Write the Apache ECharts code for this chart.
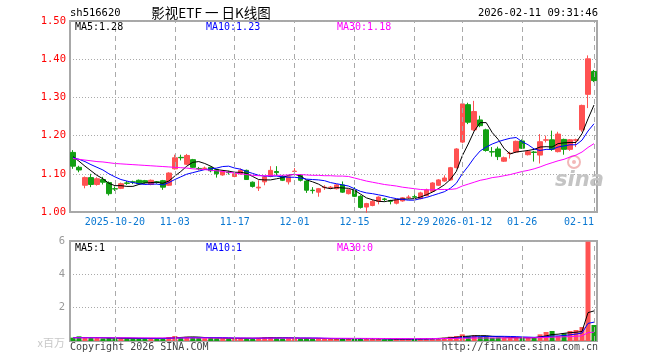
<!DOCTYPE html>
<html><head><meta charset="utf-8">
<script src="https://cdn.jsdelivr.net/npm/echarts@6/dist/echarts.min.js"></script>
<style>html,body{margin:0;padding:0;background:#fff}#c{width:660px;height:360px}</style>
</head><body><div id="c"></div>
<script>
const dates = [
'2025-10-09','2025-10-10','2025-10-13','2025-10-14','2025-10-15','2025-10-16','2025-10-17','2025-10-20','2025-10-21','2025-10-22',
'2025-10-23','2025-10-24','2025-10-27','2025-10-28','2025-10-29','2025-10-30','2025-10-31','2025-11-03','2025-11-04','2025-11-05',
'2025-11-06','2025-11-07','2025-11-10','2025-11-11','2025-11-12','2025-11-13','2025-11-14','2025-11-17','2025-11-18','2025-11-19',
'2025-11-20','2025-11-21','2025-11-24','2025-11-25','2025-11-26','2025-11-27','2025-11-28','2025-12-01','2025-12-02','2025-12-03',
'2025-12-04','2025-12-05','2025-12-08','2025-12-09','2025-12-10','2025-12-11','2025-12-12','2025-12-15','2025-12-16','2025-12-17',
'2025-12-18','2025-12-19','2025-12-22','2025-12-23','2025-12-24','2025-12-25','2025-12-26','2025-12-29','2025-12-30','2025-12-31',
'2026-01-05','2026-01-06','2026-01-07','2026-01-08','2026-01-09','2026-01-12','2026-01-13','2026-01-14','2026-01-15','2026-01-16',
'2026-01-19','2026-01-20','2026-01-21','2026-01-22','2026-01-23','2026-01-26','2026-01-27','2026-01-28','2026-01-29','2026-01-30',
'2026-02-02','2026-02-03','2026-02-04','2026-02-05','2026-02-06','2026-02-09','2026-02-10','2026-02-11'];
const open = [
1.156,1.117,1.070,1.090,1.072,1.085,1.077,1.061,1.062,1.076,
1.079,1.083,1.082,1.072,1.079,1.082,1.070,1.113,1.143,1.125,
1.137,1.114,1.114,1.117,1.111,1.097,1.104,1.093,1.100,1.109,
1.078,1.063,1.079,1.093,1.106,1.093,1.079,1.106,1.096,1.081,
1.057,1.052,1.064,1.064,1.061,1.071,1.048,1.057,1.041,1.013,
1.017,1.028,1.034,1.030,1.023,1.029,1.038,1.040,1.035,1.043,
1.054,1.070,1.081,1.084,1.116,1.183,1.281,1.215,1.241,1.215,
1.158,1.165,1.133,1.153,1.157,1.186,1.150,1.157,1.149,1.188,
1.189,1.158,1.190,1.164,1.188,1.215,1.308,1.368];
const close = [
1.120,1.110,1.090,1.072,1.087,1.078,1.048,1.060,1.074,1.075,
1.078,1.074,1.077,1.083,1.078,1.065,1.102,1.142,1.142,1.148,
1.117,1.113,1.115,1.108,1.100,1.107,1.103,1.100,1.109,1.085,
1.067,1.065,1.092,1.109,1.103,1.083,1.092,1.107,1.083,1.057,
1.056,1.061,1.065,1.065,1.071,1.052,1.058,1.041,1.012,1.022,
1.028,1.039,1.033,1.028,1.032,1.037,1.039,1.039,1.050,1.058,
1.076,1.084,1.089,1.116,1.165,1.283,1.235,1.263,1.226,1.161,
1.157,1.145,1.142,1.154,1.185,1.167,1.158,1.156,1.184,1.189,
1.164,1.204,1.164,1.189,1.189,1.279,1.401,1.344];
const low = [
1.113,1.104,1.062,1.065,1.069,1.072,1.043,1.055,1.060,1.071,
1.073,1.072,1.074,1.070,1.074,1.058,1.068,1.111,1.135,1.123,
1.115,1.109,1.110,1.104,1.090,1.095,1.098,1.091,1.098,1.084,
1.064,1.055,1.070,1.091,1.095,1.081,1.072,1.100,1.080,1.050,
1.048,1.040,1.058,1.060,1.059,1.050,1.046,1.039,1.009,0.998,
1.015,1.020,1.028,1.020,1.020,1.027,1.034,1.033,1.033,1.041,
1.052,1.068,1.079,1.082,1.114,1.180,1.230,1.212,1.222,1.158,
1.145,1.136,1.131,1.140,1.155,1.165,1.148,1.132,1.127,1.182,
1.160,1.156,1.150,1.160,1.170,1.210,1.272,1.340];
const high = [
1.162,1.121,1.093,1.100,1.091,1.092,1.080,1.067,1.077,1.081,
1.082,1.085,1.084,1.085,1.081,1.084,1.104,1.150,1.150,1.152,
1.139,1.118,1.119,1.119,1.113,1.110,1.108,1.103,1.114,1.111,
1.080,1.083,1.094,1.120,1.120,1.097,1.094,1.115,1.099,1.083,
1.065,1.063,1.070,1.068,1.073,1.080,1.060,1.065,1.044,1.024,
1.032,1.041,1.037,1.032,1.034,1.039,1.044,1.046,1.053,1.061,
1.078,1.086,1.096,1.118,1.167,1.284,1.286,1.291,1.252,1.218,
1.170,1.171,1.145,1.158,1.187,1.190,1.161,1.160,1.204,1.200,
1.213,1.210,1.192,1.191,1.192,1.281,1.410,1.372];
const ma5 = [
1.145,1.133,1.120,1.108,1.096,1.087,1.075,1.069,1.069,1.067,
1.067,1.072,1.076,1.077,1.078,1.075,1.081,1.094,1.106,1.120,
1.130,1.132,1.127,1.120,1.111,1.109,1.107,1.104,1.104,1.101,
1.093,1.085,1.084,1.084,1.087,1.090,1.096,1.099,1.094,1.084,
1.079,1.073,1.064,1.061,1.064,1.063,1.062,1.057,1.047,1.037,
1.032,1.028,1.027,1.030,1.032,1.034,1.034,1.035,1.039,1.045,
1.052,1.061,1.071,1.085,1.106,1.147,1.178,1.212,1.234,1.234,
1.208,1.190,1.166,1.152,1.157,1.159,1.161,1.164,1.170,1.171,
1.170,1.179,1.181,1.182,1.182,1.205,1.244,1.280];
const ma10 = [
1.142,1.138,1.132,1.124,1.117,1.110,1.100,1.092,1.085,1.081,
1.077,1.074,1.072,1.073,1.073,1.071,1.077,1.085,1.092,1.099,
1.103,1.107,1.111,1.113,1.115,1.119,1.120,1.115,1.112,1.106,
1.101,1.096,1.094,1.094,1.094,1.092,1.091,1.091,1.089,1.086,
1.085,1.084,1.082,1.077,1.074,1.071,1.068,1.061,1.054,1.050,
1.048,1.045,1.042,1.038,1.035,1.033,1.031,1.031,1.035,1.038,
1.043,1.048,1.053,1.062,1.075,1.100,1.120,1.142,1.160,1.170,
1.178,1.184,1.189,1.193,1.195,1.184,1.176,1.165,1.161,1.164,
1.164,1.170,1.173,1.176,1.176,1.188,1.212,1.231];
const ma30 = [
1.140,1.138,1.136,1.134,1.132,1.131,1.129,1.127,1.126,1.125,
1.124,1.123,1.122,1.121,1.120,1.119,1.118,1.117,1.116,1.115,
1.113,1.112,1.111,1.109,1.108,1.106,1.104,1.102,1.100,1.098,
1.096,1.095,1.095,1.096,1.096,1.096,1.097,1.098,1.098,1.097,
1.096,1.096,1.095,1.095,1.094,1.094,1.093,1.089,1.085,1.081,
1.078,1.075,1.072,1.070,1.068,1.065,1.063,1.061,1.059,1.058,
1.058,1.059,1.059,1.059,1.061,1.068,1.073,1.078,1.083,1.086,
1.090,1.092,1.095,1.098,1.102,1.106,1.109,1.113,1.118,1.124,
1.129,1.134,1.138,1.144,1.149,1.157,1.169,1.179];
const volume = [
0.20,0.28,0.18,0.20,0.18,0.16,0.18,0.16,0.15,0.14,
0.15,0.16,0.15,0.16,0.14,0.16,0.24,0.30,0.22,0.25,
0.22,0.18,0.17,0.18,0.16,0.15,0.14,0.16,0.18,0.17,
0.16,0.18,0.22,0.24,0.18,0.16,0.17,0.16,0.15,0.18,
0.14,0.15,0.12,0.12,0.14,0.15,0.13,0.14,0.16,0.15,
0.12,0.12,0.10,0.10,0.12,0.12,0.12,0.12,0.14,0.15,
0.18,0.18,0.20,0.26,0.30,0.40,0.30,0.34,0.26,0.30,
0.20,0.22,0.18,0.18,0.22,0.20,0.20,0.20,0.40,0.54,
0.60,0.30,0.46,0.60,0.66,0.84,5.96,0.96];
const volMa5 = [
0.21,0.21,0.21,0.21,0.21,0.20,0.18,0.176,0.166,0.158,
0.156,0.152,0.152,0.152,0.152,0.154,0.17,0.20,0.212,0.234,
0.246,0.234,0.208,0.20,0.182,0.168,0.16,0.158,0.158,0.16,
0.162,0.17,0.182,0.194,0.196,0.196,0.194,0.182,0.164,0.164,
0.16,0.156,0.148,0.142,0.134,0.136,0.132,0.136,0.144,0.146,
0.14,0.138,0.13,0.118,0.112,0.112,0.112,0.116,0.124,0.13,
0.142,0.154,0.17,0.194,0.224,0.268,0.292,0.32,0.32,0.32,
0.28,0.264,0.232,0.216,0.20,0.20,0.196,0.20,0.244,0.308,
0.388,0.408,0.46,0.50,0.524,0.572,1.704,1.804];
const volMa10 = [
0.20,0.20,0.20,0.20,0.20,0.20,0.195,0.19,0.185,0.183,
0.178,0.166,0.163,0.159,0.155,0.155,0.161,0.176,0.183,0.194,
0.20,0.202,0.204,0.206,0.208,0.207,0.197,0.183,0.179,0.171,
0.165,0.165,0.17,0.176,0.178,0.179,0.182,0.182,0.179,0.18,
0.178,0.175,0.165,0.153,0.149,0.148,0.144,0.142,0.143,0.14,
0.138,0.135,0.134,0.132,0.13,0.127,0.126,0.124,0.122,0.122,
0.128,0.134,0.144,0.16,0.178,0.206,0.224,0.246,0.26,0.275,
0.277,0.281,0.279,0.271,0.263,0.243,0.233,0.219,0.233,0.254,
0.294,0.302,0.33,0.372,0.416,0.48,1.056,1.132];
const volMa30 = [
0.19,0.19,0.19,0.19,0.19,0.19,0.19,0.19,0.19,0.19,
0.188,0.187,0.186,0.185,0.184,0.183,0.183,0.183,0.183,0.183,
0.182,0.181,0.18,0.18,0.179,0.178,0.177,0.177,0.177,0.178,
0.176,0.175,0.175,0.176,0.176,0.176,0.176,0.175,0.174,0.174,
0.172,0.17,0.168,0.166,0.165,0.164,0.162,0.16,0.158,0.156,
0.154,0.152,0.15,0.148,0.146,0.145,0.144,0.143,0.142,0.142,
0.143,0.145,0.148,0.152,0.157,0.164,0.169,0.174,0.177,0.181,
0.182,0.184,0.185,0.186,0.188,0.189,0.19,0.194,0.203,0.216,
0.232,0.238,0.25,0.266,0.284,0.308,0.503,0.531];
const tickDates = ['2025-10-20','2025-11-03','2025-11-17','2025-12-01','2025-12-15','2025-12-29','2026-01-12','2026-01-26','2026-02-11'];
const tickLabels = ['2025-10-20','11-03','11-17','12-01','12-15','12-29','2026-01-12','01-26','02-11'];
const priceMin = 1.0, priceMax = 1.5, priceStep = 0.1;
const volMin = 0, volMax = 6, volStep = 2;
const headerTexts = ['sh516620', '影视ETF 一 日K线图', '2026-02-11 09:31:46'];
const priceLegend = ['MA5:1.28', 'MA10:1.23', 'MA30:1.18'];
const volLegend = ['MA5:1', 'MA10:1', 'MA30:0'];
const footer = ['Copyright 2026 SINA.COM', 'http://finance.sina.com.cn'];

const UP = '#ff5252', DOWN = '#12a012';
const MONO = '"DejaVu Sans Mono", "Liberation Mono", monospace';
const candles = dates.map((d, i) => [open[i], close[i], low[i], high[i]]);
const volBars = volume.map((v, i) => ({value: v, itemStyle: {color: close[i] >= open[i] ? UP : DOWN}}));
const vLines = tickDates.map(d => ({xAxis: d}));
const vLineStyle = {color: '#aaa', type: [5, 4], width: 1};
const GL = 70, GW = 527;

const chart = echarts.init(document.getElementById('c'), null, {renderer: 'canvas'});
chart.setOption({
  animation: false,
  backgroundColor: '#fff',
  grid: [
    {left: GL, top: 21, width: GW, height: 191, show: true, borderColor: '#a8a8a8', borderWidth: 2, containLabel: false},
    {left: GL, top: 241, width: GW, height: 100, show: true, borderColor: '#a8a8a8', borderWidth: 2, containLabel: false}
  ],
  xAxis: [
    {type: 'category', data: dates, gridIndex: 0, boundaryGap: true,
     axisLine: {show: false}, axisTick: {show: false}, splitLine: {show: false},
     axisLabel: {
       interval: (idx, val) => tickDates.indexOf(val) >= 0,
       formatter: val => tickLabels[tickDates.indexOf(val)],
       color: '#0a78d2', fontSize: 10, fontFamily: MONO, margin: 5,
       alignMaxLabel: 'right', showMaxLabel: true, hideOverlap: false
     }},
    {type: 'category', data: dates, gridIndex: 1, boundaryGap: true,
     axisLine: {show: false}, axisTick: {show: false}, splitLine: {show: false}, axisLabel: {show: false}}
  ],
  yAxis: [
    {type: 'value', gridIndex: 0, min: priceMin, max: priceMax, interval: priceStep, scale: true,
     axisLine: {show: false}, axisTick: {show: false},
     axisLabel: {color: '#ff0000', fontSize: 10.5, fontFamily: MONO, margin: 4, formatter: v => v.toFixed(2)},
     splitLine: {show: true, lineStyle: {color: '#aaa', type: [1, 2], width: 1}}},
    {type: 'value', gridIndex: 1, min: volMin, max: volMax, interval: volStep,
     axisLine: {show: false}, axisTick: {show: false},
     axisLabel: {color: '#999', fontSize: 10.5, fontFamily: MONO, margin: 5,
       formatter: v => v === 0 ? '{u|x百万}' : String(v),
       rich: {u: {color: '#c8c8c8', fontSize: 11, fontFamily: '"Noto Sans CJK SC", sans-serif', padding: [4, 0, 0, 0]}}},
     splitLine: {show: true, lineStyle: {color: '#aaa', type: [1, 2], width: 1}}}
  ],
  series: [
    {type: 'candlestick', xAxisIndex: 0, yAxisIndex: 0, data: candles, barWidth: 5,
     itemStyle: {color: UP, color0: DOWN, borderColor: UP, borderColor0: DOWN, borderWidth: 1},
     markLine: {silent: true, symbol: ['none', 'none'], label: {show: false}, lineStyle: vLineStyle, data: vLines, animation: false},
     z: 3},
    {type: 'line', xAxisIndex: 0, yAxisIndex: 0, data: ma5, showSymbol: false, lineStyle: {color: '#000', width: 1}, itemStyle: {color: '#000'}, z: 4},
    {type: 'line', xAxisIndex: 0, yAxisIndex: 0, data: ma10, showSymbol: false, lineStyle: {color: '#0000ff', width: 1}, itemStyle: {color: '#0000ff'}, z: 4},
    {type: 'line', xAxisIndex: 0, yAxisIndex: 0, data: ma30, showSymbol: false, lineStyle: {color: '#ff00ff', width: 1}, itemStyle: {color: '#ff00ff'}, z: 4},
    {type: 'bar', xAxisIndex: 1, yAxisIndex: 1, data: volBars, barWidth: 5,
     markLine: {silent: true, symbol: ['none', 'none'], label: {show: false}, lineStyle: vLineStyle, data: vLines, animation: false},
     z: 3},
    {type: 'line', xAxisIndex: 1, yAxisIndex: 1, data: volMa5, showSymbol: false, lineStyle: {color: '#000', width: 1}, z: 4},
    {type: 'line', xAxisIndex: 1, yAxisIndex: 1, data: volMa10, showSymbol: false, lineStyle: {color: '#0000ff', width: 1}, z: 4},
    {type: 'line', xAxisIndex: 1, yAxisIndex: 1, data: volMa30, showSymbol: false, lineStyle: {color: '#ff00ff', width: 1}, z: 4}
  ],
  graphic: [
    {type: 'text', x: 70, y: 13, style: {text: headerTexts[0], font: '10.5px ' + MONO, fill: '#000', textAlign: 'left', textVerticalAlign: 'middle', align: 'left', verticalAlign: 'middle'}},
    {type: 'text', x: 211, y: 13, style: {text: headerTexts[1], font: '13.5px "Noto Sans CJK SC", sans-serif', fill: '#000', textAlign: 'center', textVerticalAlign: 'middle', align: 'center', verticalAlign: 'middle'}},
    {type: 'text', x: 598, y: 13, style: {text: headerTexts[2], font: '10.5px ' + MONO, fill: '#000', textAlign: 'right', textVerticalAlign: 'middle', align: 'right', verticalAlign: 'middle'}},
    {type: 'text', x: 75, y: 27, z: 10, style: {text: priceLegend[0], font: '10px ' + MONO, fill: '#000', textVerticalAlign: 'middle', verticalAlign: 'middle'}},
    {type: 'text', x: 206, y: 27, z: 10, style: {text: priceLegend[1], font: '10px ' + MONO, fill: '#0000ff', textVerticalAlign: 'middle', verticalAlign: 'middle'}},
    {type: 'text', x: 337, y: 27, z: 10, style: {text: priceLegend[2], font: '10px ' + MONO, fill: '#ff00ff', textVerticalAlign: 'middle', verticalAlign: 'middle'}},
    {type: 'text', x: 75, y: 248, z: 10, style: {text: volLegend[0], font: '10px ' + MONO, fill: '#000', textVerticalAlign: 'middle', verticalAlign: 'middle'}},
    {type: 'text', x: 206, y: 248, z: 10, style: {text: volLegend[1], font: '10px ' + MONO, fill: '#0000ff', textVerticalAlign: 'middle', verticalAlign: 'middle'}},
    {type: 'text', x: 337, y: 248, z: 10, style: {text: volLegend[2], font: '10px ' + MONO, fill: '#ff00ff', textVerticalAlign: 'middle', verticalAlign: 'middle'}},
    {type: 'text', x: 70, y: 347, style: {text: footer[0], font: '10px ' + MONO, fill: '#444', textVerticalAlign: 'middle', verticalAlign: 'middle'}},
    {type: 'text', x: 598, y: 347, style: {text: footer[1], font: '10px ' + MONO, fill: '#444', textAlign: 'right', textVerticalAlign: 'middle', align: 'right', verticalAlign: 'middle'}},
    {type: 'circle', z: 1, shape: {cx: 574, cy: 162, r: 6}, style: {fill: 'none', stroke: '#f2b8b8', lineWidth: 2}},
    {type: 'circle', z: 1, shape: {cx: 574, cy: 162, r: 2}, style: {fill: '#f2b8b8'}},
    {type: 'text', x: 555, y: 181, z: 1, style: {text: 'sina', font: 'italic bold 21px "DejaVu Sans", sans-serif', fill: '#c4c4c4', textVerticalAlign: 'middle', verticalAlign: 'middle'}}
  ]
});
</script>
</body></html>
